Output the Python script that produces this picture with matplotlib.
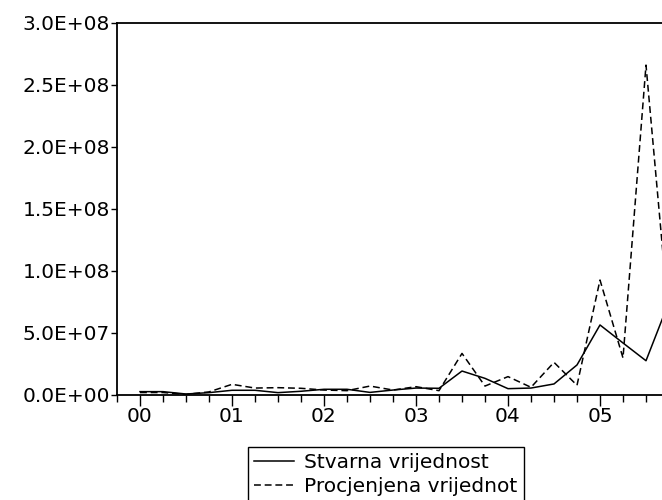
import numpy as np
import matplotlib.pyplot as plt
from matplotlib.ticker import FuncFormatter

# quarterly observations, 2000Q1 onwards
year_labels = ['00', '01', '02', '03', '04', '05']
stvarna = np.array([2.7, 2.7, 0.8, 1.9, 3.8, 3.8, 1.9, 3.0,
                    4.6, 4.6, 2.1, 4.0, 5.6, 5.4, 19.3, 13.4,
                    5.1, 5.6, 8.9, 24.2, 56.4, 41.9, 27.6, 75.0]) * 1e6
procjenjena = np.array([2.0, 2.0, 0.5, 2.5, 8.6, 5.6, 5.9, 5.4,
                        4.0, 3.5, 7.2, 4.0, 6.7, 3.5, 33.5, 7.2,
                        14.8, 6.2, 26.3, 7.8, 92.6, 29.8, 265.7, 60.0]) * 1e6

plt.rcParams['font.family'] = 'DejaVu Sans'
plt.rcParams['font.size'] = 14.5

fig = plt.figure(figsize=(6.62, 5.0), dpi=100)
ax = fig.add_axes([117 / 662, 105 / 500, 575 / 662, 372.5 / 500])

x = np.arange(len(stvarna))
ax.plot(x, stvarna, color='black', lw=1.1, label='Stvarna vrijednost')
ax.plot(x, procjenjena, color='black', lw=1.1, ls=(0, (4.5, 2.5)),
        label='Procjenjena vrijednot')

ax.set_xlim(-1, 24)
ax.set_ylim(0, 3e8)
ax.set_yticks(np.arange(0, 3.01e8, 5e7))
ax.yaxis.set_major_formatter(FuncFormatter(lambda v, p: f'{v:.1E}'))
ax.set_xticks(range(0, 24, 4), year_labels)
ax.set_xticks(range(-1, 25), minor=True)

ax.spines['right'].set_visible(False)
for s in ['left', 'top', 'bottom']:
    ax.spines[s].set_linewidth(1.3)
ax.tick_params(axis='x', which='major', length=8, width=1, pad=1)
ax.tick_params(axis='x', which='minor', length=5, width=1)
ax.tick_params(axis='y', length=4, width=1, pad=1)

leg = fig.legend(loc='upper left', bbox_to_anchor=(248 / 662, 1 - 447 / 500),
                 frameon=True, fancybox=False, edgecolor='black', framealpha=1,
                 borderaxespad=0, borderpad=0.3, handlelength=2.0,
                 handletextpad=0.5, labelspacing=0.25)
leg.get_frame().set_linewidth(1.0)

fig.savefig('out.png', dpi=100)
